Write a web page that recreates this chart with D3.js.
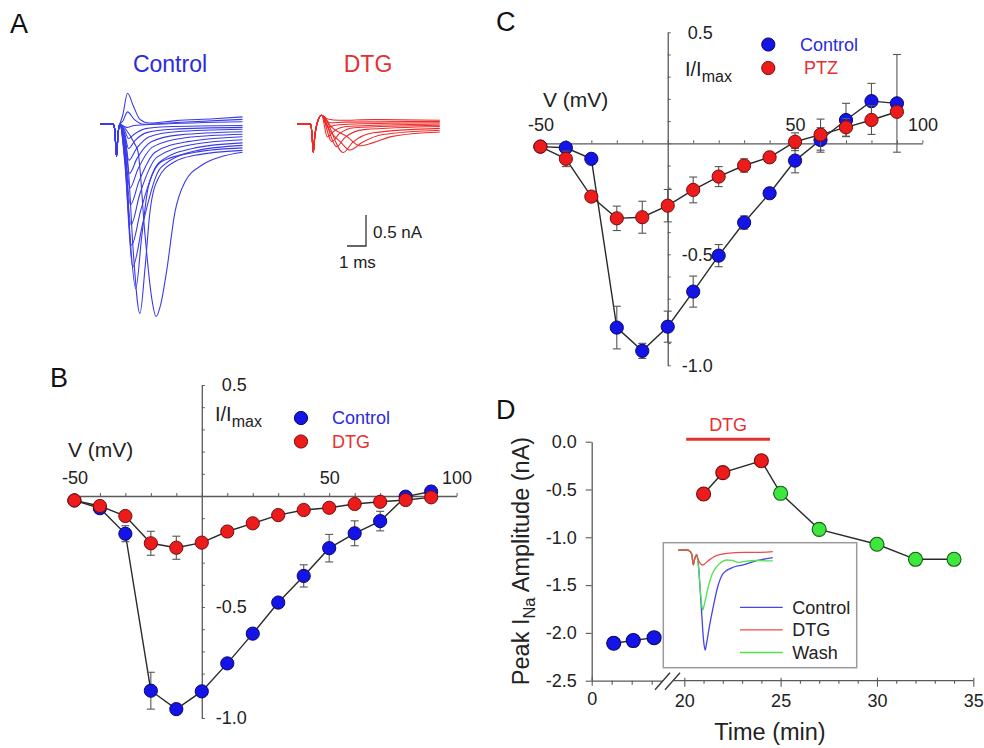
<!DOCTYPE html>
<html>
<head>
<meta charset="utf-8">
<script src="https://cdn.jsdelivr.net/npm/d3@7"></script>
<style>
  body { margin: 0; background: #fff; }
  svg { display: block; font-family: "Liberation Sans", Arial, Helvetica, sans-serif; }
</style>
</head>
<body>
<svg id="fig" width="984" height="748"></svg>
<script>
// ---------- Panel A: example current traces (t in ms, I in nA) ----------
const artifactControl = [[0,0],[0.7,0],[0.78,-0.1],[0.87,-0.52],[0.95,-0.15],[1.05,0]];
const tracesControl = [
  [[1.2,0.15],[1.45,0.5],[1.75,0.3],[2.1,0.08],[2.6,0.02],[4,0.06],[6,0.09],[7.5,0.12]],
  [[1.2,0.05],[1.45,0.2],[1.8,0.08],[2.3,0.0],[4,0.03],[7.5,0.08]],
  [[1.4,-0.05],[1.8,-0.02],[3,0.0],[7.5,0.04]],
  [[1.3,-0.1],[1.5,-0.23],[1.8,-0.16],[2.4,-0.07],[3.5,-0.04],[7.5,-0.02]],
  [[1.3,-0.15],[1.5,-0.39],[1.85,-0.26],[2.5,-0.13],[3.8,-0.08],[7.5,-0.05]],
  [[1.3,-0.2],[1.52,-0.58],[1.9,-0.4],[2.6,-0.2],[4,-0.12],[7.5,-0.08]],
  [[1.3,-0.28],[1.55,-0.79],[1.95,-0.55],[2.7,-0.28],[4.2,-0.17],[7.5,-0.12]],
  [[1.3,-0.35],[1.57,-1.03],[2.0,-0.72],[2.8,-0.36],[4.4,-0.22],[7.5,-0.16]],
  [[1.3,-0.42],[1.6,-1.3],[2.05,-0.92],[2.9,-0.45],[4.6,-0.28],[7.5,-0.2]],
  [[1.3,-0.5],[1.63,-1.62],[2.1,-1.12],[3.0,-0.53],[4.8,-0.33],[7.5,-0.25]],
  [[1.3,-0.55],[1.66,-1.95],[2.15,-1.38],[3.1,-0.62],[5.0,-0.38],[7.5,-0.3]],
  [[1.3,-0.6],[1.72,-2.3],[2.25,-1.6],[3.2,-0.7],[5.0,-0.43],[7.5,-0.34]],
  [[1.35,-0.6],[1.6,-1.9],[1.88,-2.65],[2.2,-1.8],[2.55,-1.0],[3.25,-0.6],[5,-0.45],[7.5,-0.38]],
  [[1.3,-0.2],[1.49,-0.71],[1.75,-2.05],[2.1,-3.05],[2.37,-2.32],[2.63,-1.41],[3.07,-0.87],[3.95,-0.6],[5,-0.5],[7.5,-0.42]],
  [[1.4,-0.1],[1.8,-0.3],[2.0,-0.44],[2.37,-1.79],[2.72,-2.8],[2.95,-3.1],[3.2,-2.9],[3.5,-2.38],[3.95,-1.41],[4.47,-0.93],[5.35,-0.66],[6.4,-0.52],[7.5,-0.45]]
];
const artifactDTG = [[0,0],[0.7,0],[0.77,-0.15],[0.84,-0.46],[0.92,-0.2],[1.05,0.02],[1.28,0.14]];
const tracesDTG = [
  [[1.6,0.08],[2.2,0.06],[4,0.07],[7.5,0.06]],
  [[1.7,0.02],[2.5,0.03],[7.5,0.04]],
  [[1.6,-0.05],[2.0,-0.02],[3,0.0],[7.5,0.02]],
  [[1.58,-0.21],[1.9,-0.12],[2.6,-0.04],[7.5,0.0]],
  [[1.81,-0.285],[2.2,-0.16],[3,-0.06],[7.5,-0.02]],
  [[2.07,-0.365],[2.5,-0.22],[3.5,-0.09],[7.5,-0.04]],
  [[2.42,-0.46],[2.9,-0.3],[4,-0.14],[7.5,-0.07]],
  [[1.7,-0.1],[2.3,-0.3],[2.77,-0.42],[3.4,-0.3],[4.5,-0.17],[7.5,-0.1]],
  [[1.8,-0.05],[2.6,-0.2],[3.3,-0.35],[4,-0.3],[5,-0.2],[7.5,-0.13]]
];
const scaleBarTime = 1;      // ms
const scaleBarCurrent = 0.5; // nA

// ---------- Panels B and C: normalized I-V relations ----------
const volts = [-50,-40,-30,-20,-10,0,10,20,30,40,50,60,70,80,90];
const xTicksIV = [-50,-40,-30,-20,-10,0,10,20,30,40,50,60,70,80,90,100];
const xLabelsIV = [-50,50,100];
const yTicksIV = [-1.0,-0.9,-0.8,-0.7,-0.6,-0.5,-0.4,-0.3,-0.2,-0.1,0,0.1,0.2,0.3,0.4,0.5];
const yLabelsIV = [0.5,-0.5,-1.0];

const bControl    = [-0.02,-0.055,-0.17,-0.877,-0.96,-0.88,-0.754,-0.62,-0.48,-0.36,-0.235,-0.168,-0.113,-0.003,0.02];
const bControlErr = [0.01,0.01,0.036,0.083,0.02,0.02,0.02,0.015,0.015,0.05,0.062,0.056,0.044,0.01,0.025];
const bDTG        = [-0.02,-0.045,-0.09,-0.213,-0.233,-0.21,-0.16,-0.123,-0.086,-0.063,-0.053,-0.036,-0.026,-0.018,-0.006];
const bDTGErr     = [0.01,0.01,0.01,0.054,0.052,0.02,0.02,0.01,0.01,0.01,0.01,0.01,0.01,0.01,0.01];

const cControl    = [-0.015,-0.02,-0.07,-0.83,-0.935,-0.826,-0.668,-0.506,-0.357,-0.225,-0.078,0.015,0.105,0.19,0.18];
const cControlErr = [0.01,0.01,0.01,0.096,0.034,0.07,0.07,0.05,0.03,0.02,0.055,0.055,0.075,0.08,0.22];
const cPTZ        = [-0.015,-0.07,-0.24,-0.338,-0.333,-0.281,-0.21,-0.15,-0.1,-0.063,0.007,0.039,0.072,0.105,0.142];
const cPTZErr     = [0.01,0.035,0.02,0.055,0.072,0.073,0.058,0.045,0.03,0.01,0.04,0.07,0.04,0.065,0.02];

// ---------- Panel D: peak I_Na over time ----------
const timeControl = [5.5,10.4,15.6];
const peakControl = [-2.108,-2.08,-2.05];
const timeDTG = [21,22,24];
const peakDTG = [-0.547,-0.324,-0.199];
const timeWash = [25,27,30,32,34];
const peakWash = [-0.54,-0.917,-1.073,-1.23,-1.23];
const dtgPeriod = [20.1,24.45];
const yTicksD = [-2.5,-2.0,-1.5,-1.0,-0.5,0.0];
const xTicksLeftD = [0,5,10,15];
const xTicksRightD = [20,25,30,35];
const xMinorRightD = [21,22,23,24,26,27,28,29,31,32,33,34];

// inset traces (t in ms, I in nA)
const insetStart = [[0,0],[0.45,0],[0.6,-0.02],[0.72,-0.1],[0.79,-0.31],[0.86,-0.2],[0.97,-0.1]];
const insetControl = [[1.05,-0.25],[1.2,-1.1],[1.35,-1.95],[1.42,-2.1],[1.5,-1.95],[1.65,-1.6],[1.85,-1.19],[2.1,-0.75],[2.38,-0.49],[2.8,-0.38],[3.44,-0.31],[4.2,-0.22],[5,-0.16]];
const insetWash = [[1.05,-0.3],[1.2,-1.0],[1.29,-1.26],[1.4,-1.1],[1.6,-0.75],[1.8,-0.5],[2.03,-0.35],[2.3,-0.25],[2.56,-0.21],[2.85,-0.22],[3.17,-0.26],[3.5,-0.24],[4.2,-0.22],[5,-0.23]];
const insetDTG = [[1.05,-0.2],[1.29,-0.315],[1.6,-0.22],[2.0,-0.12],[2.56,-0.07],[3.5,-0.05],[4.2,-0.05],[5,-0.035]];
const insetLegend = ["Control","DTG","Wash"];

// ---------- colours ----------
const BLUE = "#1414e6", BLUE_EDGE = "#08086e";
const RED = "#ec1c1c", RED_EDGE = "#7a0a0a";
const GREEN = "#3ee63e", GREEN_EDGE = "#145a14";
const AXIS = "#5a5a5a";
const TEXT = "#222";

const svg = d3.select("#fig");
svg.append("rect").attr("width", 984).attr("height", 748).attr("fill", "#fff");

function panelLetter(letter, x, y) {
  svg.append("text").attr("x", x).attr("y", y).attr("font-size", 27)
    .attr("fill", "#111").text(letter);
}

// ================= Panel A =================
panelLetter("A", 10, 33);
{
  const g = svg.append("g");
  const xCtl = d3.scaleLinear().domain([0, 7.5]).range([100, 242.5]);
  const xDtg = d3.scaleLinear().domain([0, 7.5]).range([297.3, 439.8]);
  const yA = d3.scaleLinear().domain([-1, 0]).range([186.3, 124.3]);
  const yAd = d3.scaleLinear().domain([-1, 0]).range([186, 124]);

  g.append("text").attr("x", 170).attr("y", 72).attr("text-anchor", "middle")
    .attr("font-size", 23).attr("fill", "#2a2ae0").text("Control");
  g.append("text").attr("x", 368).attr("y", 72).attr("text-anchor", "middle")
    .attr("font-size", 23).attr("fill", "#e53030").text("DTG");

  const lineCtl = d3.line().x(d => xCtl(d[0])).y(d => yA(d[1])).curve(d3.curveMonotoneX);
  const lineDtg = d3.line().x(d => xDtg(d[0])).y(d => yAd(d[1])).curve(d3.curveMonotoneX);

  g.append("g").selectAll("path").data(tracesControl).join("path")
    .attr("d", tr => lineCtl(artifactControl.concat(tr)))
    .attr("fill", "none").attr("stroke", "#3a3ae8").attr("stroke-width", 1.1);
  g.append("g").selectAll("path").data(tracesDTG).join("path")
    .attr("d", tr => lineDtg(artifactDTG.concat(tr)))
    .attr("fill", "none").attr("stroke", "#ee2a2a").attr("stroke-width", 1.1);

  // scale bar
  const barX = 366, barY = 246;
  const barW = xCtl(scaleBarTime) - xCtl(0);
  const barH = yA(-scaleBarCurrent) - yA(0);
  g.append("path")
    .attr("d", `M${barX},${barY - barH}V${barY}H${barX - barW}`)
    .attr("fill", "none").attr("stroke", "#333").attr("stroke-width", 1.3);
  g.append("text").attr("x", 373).attr("y", 238).attr("font-size", 17).attr("fill", TEXT)
    .text(`${scaleBarCurrent} nA`);
  g.append("text").attr("x", 339).attr("y", 268).attr("font-size", 17).attr("fill", TEXT)
    .text(`${scaleBarTime} ms`);
}

// ================= I-V panels (B, C) =================
function ivPanel(opt) {
  const g = svg.append("g");
  const xs = d3.scaleLinear().domain([-50, 100]).range(opt.xRange);
  const ys = d3.scaleLinear().domain([-1, 0.5]).range(opt.yRange);

  const xAx = g.append("g").attr("transform", `translate(0,${ys(0)})`)
    .call(d3.axisTop(xs).tickValues(xTicksIV).tickSizeInner(3).tickSizeOuter(0).tickPadding(9)
      .tickFormat(d => xLabelsIV.includes(d) ? String(d) : ""));
  const yAx = g.append("g").attr("transform", `translate(${xs(0)},0)`)
    .call(d3.axisRight(ys).tickValues(yTicksIV).tickSizeInner(3).tickSizeOuter(0)
      .tickFormat(d => yLabelsIV.some(v => Math.abs(v - d) < 1e-9) ? d.toFixed(1) : ""));
  yAx.selectAll(".tick text").attr("x", 45).attr("text-anchor", "end");
  [xAx, yAx].forEach(a => {
    a.select(".domain").attr("stroke", AXIS).attr("stroke-width", 1.3);
    a.selectAll(".tick line").attr("stroke", AXIS).attr("stroke-width", 1);
    a.selectAll(".tick text").attr("font-size", 18).attr("fill", TEXT)
      .attr("font-family", "Liberation Sans, Arial, sans-serif");
  });

  // axis titles
  g.append("text").attr("x", opt.vLabel[0]).attr("y", opt.vLabel[1]).attr("font-size", 21)
    .attr("fill", TEXT).text("V (mV)");
  const il = g.append("text").attr("x", opt.iLabel[0]).attr("y", opt.iLabel[1])
    .attr("font-size", 20).attr("fill", TEXT);
  il.append("tspan").text("I/I");
  il.append("tspan").attr("font-size", 16).attr("dy", 6).text("max");

  function series(vals, errs, fill, edge) {
    const s = g.append("g");
    const line = d3.line().x((d, i) => xs(volts[i])).y(d => ys(d));
    s.append("path").attr("d", line(vals)).attr("fill", "none")
      .attr("stroke", "#2a2a2a").attr("stroke-width", 1.4);
    const eb = s.append("g").attr("stroke", "#555").attr("stroke-width", 1.1);
    vals.forEach((v, i) => {
      const x = xs(volts[i]), y0 = ys(v - errs[i]), y1 = ys(v + errs[i]);
      eb.append("line").attr("x1", x).attr("x2", x).attr("y1", y0).attr("y2", y1);
      eb.append("line").attr("x1", x - 4).attr("x2", x + 4).attr("y1", y0).attr("y2", y0);
      eb.append("line").attr("x1", x - 4).attr("x2", x + 4).attr("y1", y1).attr("y2", y1);
    });
    s.selectAll("circle").data(vals).join("circle")
      .attr("cx", (d, i) => xs(volts[i])).attr("cy", d => ys(d)).attr("r", 6.6)
      .attr("fill", fill).attr("stroke", edge).attr("stroke-width", 1);
  }
  series(opt.ctrl, opt.ctrlErr, BLUE, BLUE_EDGE);
  series(opt.drug, opt.drugErr, RED, RED_EDGE);

  // legend
  const [lx, ly] = opt.legend;
  g.append("circle").attr("cx", lx).attr("cy", ly).attr("r", 6.6).attr("fill", BLUE).attr("stroke", BLUE_EDGE);
  g.append("circle").attr("cx", lx).attr("cy", ly + 23.5).attr("r", 6.6).attr("fill", RED).attr("stroke", RED_EDGE);
  g.append("text").attr("x", opt.legendText[0]).attr("y", ly + 6).attr("font-size", 18)
    .attr("fill", "#2a2ae0").text("Control");
  g.append("text").attr("x", opt.legendText[1]).attr("y", ly + 29.5).attr("font-size", 18)
    .attr("fill", "#e53030").text(opt.drugName);
}

panelLetter("B", 50, 387);
ivPanel({
  xRange: [74.4, 456.6], yRange: [718, 385],
  ctrl: bControl, ctrlErr: bControlErr, drug: bDTG, drugErr: bDTGErr, drugName: "DTG",
  vLabel: [68, 457], iLabel: [215, 421], legend: [301, 418], legendText: [332, 332]
});

panelLetter("C", 496, 31);
ivPanel({
  xRange: [540.4, 922.4], yRange: [365.3, 32.3],
  ctrl: cControl, ctrlErr: cControlErr, drug: cPTZ, drugErr: cPTZErr, drugName: "PTZ",
  vLabel: [543, 107], iLabel: [685, 76], legend: [768.3, 44.5], legendText: [800, 804]
});

// ================= Panel D =================
panelLetter("D", 496, 419);
{
  const g = svg.append("g");
  const yD = d3.scaleLinear().domain([-2.5, 0]).range([680.7, 441.7]);
  const xL = d3.scaleLinear().domain([0, 17.6]).range([591.7, 662.1]);
  const xR = d3.scaleLinear().domain([20, 35]).range([684.3, 973.3]);
  const y0 = yD(-2.5);

  const styleAxis = a => {
    a.select(".domain").attr("stroke", AXIS).attr("stroke-width", 1.3);
    a.selectAll(".tick line").attr("stroke", AXIS).attr("stroke-width", 1.1);
    a.selectAll(".tick text").attr("font-size", 18).attr("fill", TEXT)
      .attr("font-family", "Liberation Sans, Arial, sans-serif");
  };

  // y axis
  const yAx = g.append("g").attr("transform", "translate(591.7,0)")
    .call(d3.axisLeft(yD).tickValues(yTicksD).tickSizeInner(6).tickSizeOuter(0).tickPadding(9)
      .tickFormat(d => d.toFixed(1)));
  styleAxis(yAx);

  // broken x axis: left segment
  const xAxL = g.append("g").attr("transform", `translate(0,${y0})`)
    .call(d3.axisBottom(xL).tickValues(xTicksLeftD).tickSizeInner(4).tickSizeOuter(0).tickPadding(8)
      .tickFormat(d => d === 0 ? "0" : ""));
  styleAxis(xAxL);
  xAxL.selectAll(".tick line").attr("y1", d => d === 0 ? -4 : 0).attr("y2", d => d === 0 ? 5 : 4);

  // right segment
  g.append("line").attr("x1", xR(19.45)).attr("x2", xR(35)).attr("y1", y0).attr("y2", y0)
    .attr("stroke", AXIS).attr("stroke-width", 1.3);
  const xAxR = g.append("g").attr("transform", `translate(0,${y0})`)
    .call(d3.axisBottom(xR).tickValues(xTicksRightD).tickSizeInner(6).tickSizeOuter(0).tickPadding(8)
      .tickFormat(d => String(d)));
  styleAxis(xAxR);
  xAxR.select(".domain").remove();
  xAxR.selectAll(".tick line").attr("y1", -3);
  const xAxRm = g.append("g").attr("transform", `translate(0,${y0})`)
    .call(d3.axisBottom(xR).tickValues(xMinorRightD).tickSizeInner(3).tickSizeOuter(0).tickFormat(""));
  styleAxis(xAxRm);
  xAxRm.select(".domain").remove();

  // axis break marks
  const br = g.append("g").attr("stroke", "#333").attr("stroke-width", 1.3);
  br.append("line").attr("x1", 655).attr("y1", y0 + 9).attr("x2", 670).attr("y2", y0 - 8);
  br.append("line").attr("x1", 665).attr("y1", y0 + 9).attr("x2", 680).attr("y2", y0 - 8);

  // axis titles
  g.append("text").attr("x", 770).attr("y", 740).attr("text-anchor", "middle")
    .attr("font-size", 23.5).attr("fill", TEXT).text("Time (min)");
  const yt = g.append("text").attr("transform", "translate(529,561) rotate(-90)")
    .attr("text-anchor", "middle").attr("font-size", 23.5).attr("fill", TEXT);
  yt.append("tspan").text("Peak I");
  yt.append("tspan").attr("font-size", 16.5).attr("dy", 6).text("Na");
  yt.append("tspan").attr("dy", -6).text(" Amplitude (nA)");

  // DTG application bar
  g.append("line").attr("x1", xR(dtgPeriod[0])).attr("x2", xR(dtgPeriod[1]))
    .attr("y1", 439.3).attr("y2", 439.3).attr("stroke", "#e53030").attr("stroke-width", 3);
  g.append("text").attr("x", xR((dtgPeriod[0] + dtgPeriod[1]) / 2)).attr("y", 431)
    .attr("text-anchor", "middle").attr("font-size", 18).attr("fill", "#e53030").text("DTG");

  // data lines
  const ctrlPts = timeControl.map((t, i) => [xL(t), yD(peakControl[i])]);
  const drugPts = timeDTG.map((t, i) => [xR(t), yD(peakDTG[i])])
    .concat(timeWash.map((t, i) => [xR(t), yD(peakWash[i])]));
  g.append("path").attr("d", d3.line()(ctrlPts)).attr("fill", "none").attr("stroke", "#2a2a2a").attr("stroke-width", 1.4);
  g.append("path").attr("d", d3.line()(drugPts)).attr("fill", "none").attr("stroke", "#2a2a2a").attr("stroke-width", 1.4);

  const dot = (pts, fill, edge) => g.append("g").selectAll("circle").data(pts).join("circle")
    .attr("cx", d => d[0]).attr("cy", d => d[1]).attr("r", 7)
    .attr("fill", fill).attr("stroke", edge).attr("stroke-width", 1.1);
  dot(ctrlPts, BLUE, BLUE_EDGE);
  dot(timeDTG.map((t, i) => [xR(t), yD(peakDTG[i])]), RED, RED_EDGE);
  dot(timeWash.map((t, i) => [xR(t), yD(peakWash[i])]), GREEN, GREEN_EDGE);

  // inset: representative traces
  const ins = g.append("g");
  ins.append("rect").attr("x", 663.3).attr("y", 542.7).attr("width", 193.4).attr("height", 125)
    .attr("fill", "#fff").attr("stroke", "#9a9a9a").attr("stroke-width", 1.5);
  const xI = d3.scaleLinear().domain([0, 5]).range([678.3, 772.8]);
  const yI = d3.scaleLinear().domain([-2.1, 0]).range([650, 550]);
  const lineI = d3.line().x(d => xI(d[0])).y(d => yI(d[1])).curve(d3.curveMonotoneX);
  const insetColors = ["#4646e6", "#ee4a4a", "#4ee44e"];
  const insetTraces = [[insetControl, insetColors[0]], [insetWash, insetColors[2]], [insetDTG, insetColors[1]]];
  insetTraces.forEach(([tr, col]) => {
    ins.append("path").attr("d", lineI(insetStart.concat(tr))).attr("fill", "none")
      .attr("stroke", col).attr("stroke-width", 1.3);
  });
  insetLegend.forEach((name, k) => {
    const y = 607.3 + k * 22.6;
    ins.append("line").attr("x1", 740).attr("x2", 782.7).attr("y1", y).attr("y2", y)
      .attr("stroke", insetColors[k]).attr("stroke-width", 1.3);
    ins.append("text").attr("x", 792.3).attr("y", y + 6.5).attr("font-size", 18)
      .attr("fill", TEXT).text(name);
  });
}
</script>
</body>
</html>
